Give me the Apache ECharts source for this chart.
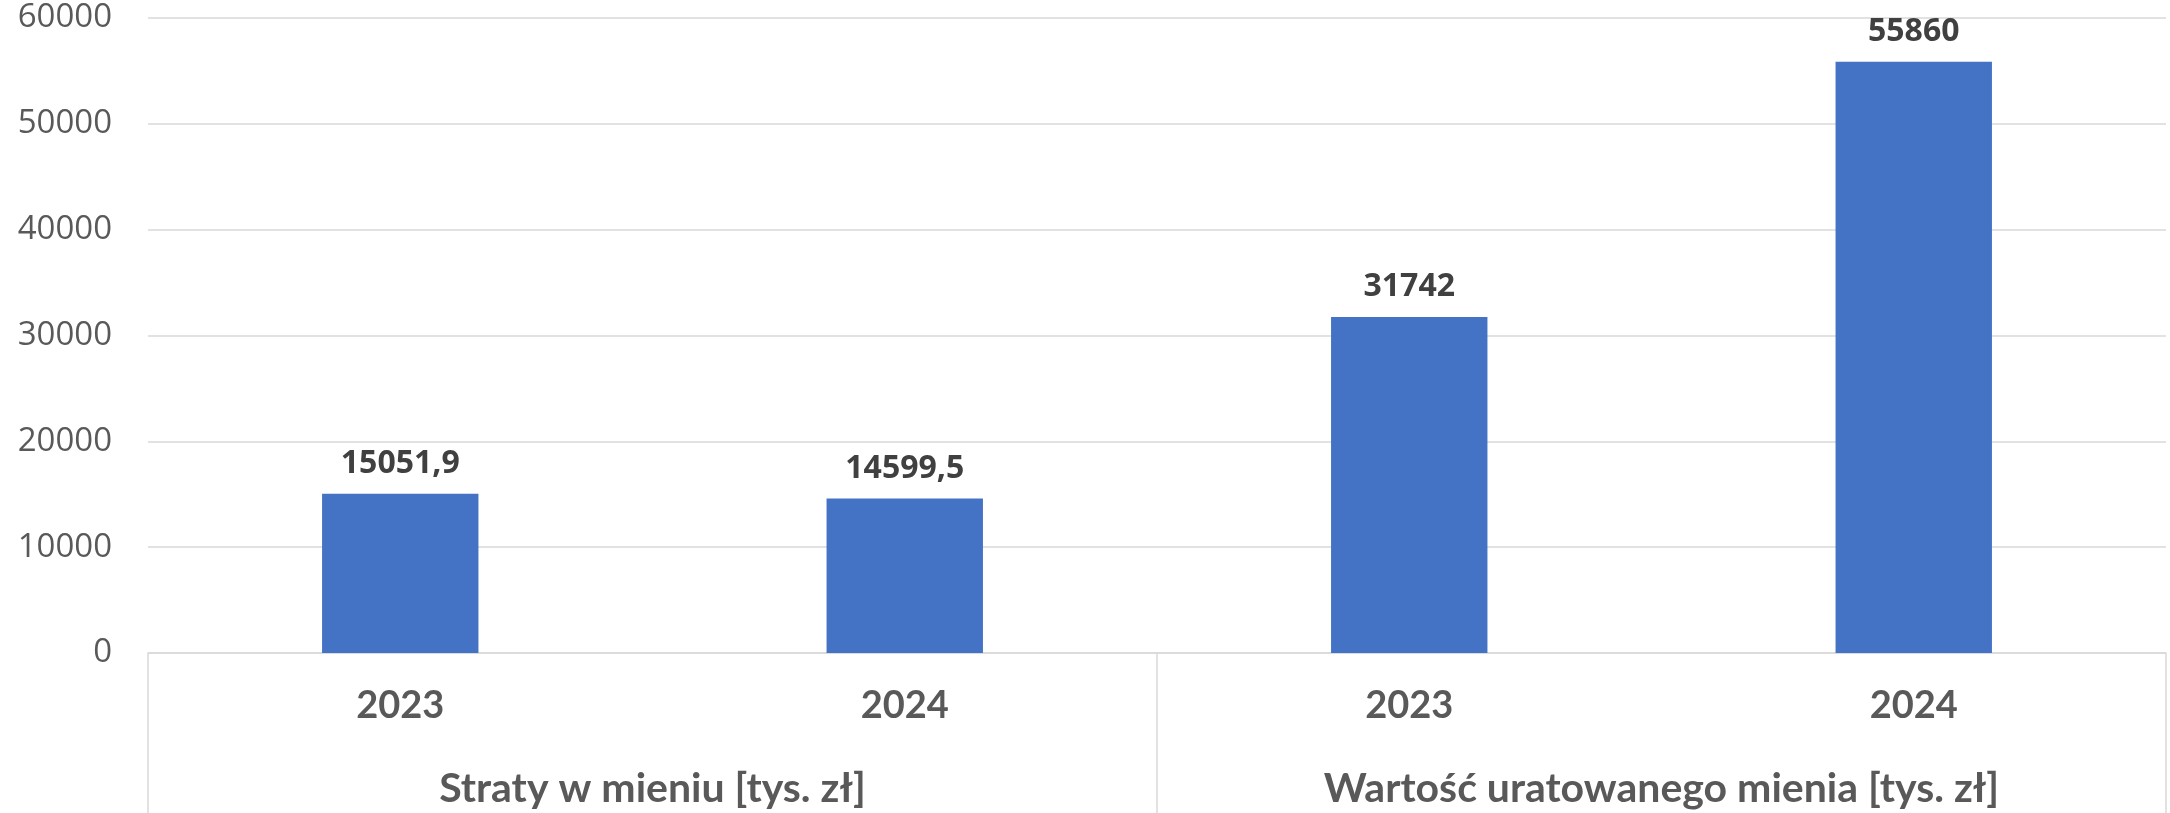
<!DOCTYPE html>
<html>
<head>
<meta charset="utf-8">
<script src="https://cdn.jsdelivr.net/npm/echarts@6/dist/echarts.min.js"></script>
<style>
html,body{margin:0;padding:0;background:#fff;}
#chart{width:2170px;height:813px;}
</style>
</head>
<body>
<div id="chart"></div>
<script>
const groups = ['Straty w mieniu [tys. zł]', 'Wartość uratowanego mienia [tys. zł]'];
const years = ['2023', '2024', '2023', '2024'];
const values = [15051.9, 14599.5, 31742, 55860];
const valueLabels = ['15051,9', '14599,5', '31742', '55860'];
const yTicks = [0, 10000, 20000, 30000, 40000, 50000, 60000];

const chart = echarts.init(document.getElementById('chart'), null, {renderer: 'canvas'});
chart.setOption({
  animation: false,
  backgroundColor: '#ffffff',
  grid: {left: 148, right: 4, top: 18, bottom: 160, containLabel: false},
  xAxis: [
    {
      type: 'category',
      data: years,
      position: 'bottom',
      axisLine: {show: true, lineStyle: {color: '#d9d9d9', width: 1.5}},
      axisTick: {show: false},
      axisLabel: {
        margin: 34,
        fontFamily: 'Lato',
        fontWeight: 'bold',
        fontSize: 38,
        color: '#595959'
      }
    },
    {
      type: 'category',
      data: groups,
      position: 'bottom',
      axisLine: {show: false},
      axisTick: {show: true, length: 160, interval: 0, lineStyle: {color: '#d9d9d9', width: 1.5}},
      axisLabel: {
        margin: 115,
        interval: 0,
        fontFamily: 'Lato',
        fontWeight: 'bold',
        fontSize: 41,
        color: '#595959'
      }
    }
  ],
  yAxis: {
    type: 'value',
    min: yTicks[0],
    max: yTicks[yTicks.length - 1],
    interval: 10000,
    axisLine: {show: false},
    axisTick: {show: false},
    splitLine: {lineStyle: {color: '#d9d9d9', width: 1.5}},
    axisLabel: {
      margin: 36,
      fontFamily: 'Open Sans',
      fontSize: 33,
      color: '#595959',
      formatter: v => String(v)
    }
  },
  series: [{
    type: 'bar',
    xAxisIndex: 0,
    data: values,
    barWidth: '31%',
    itemStyle: {color: '#4472c4'},
    label: {
      show: true,
      position: 'top',
      distance: 14,
      fontFamily: 'Open Sans',
      fontWeight: 'bold',
      fontSize: 32,
      color: '#404040',
      formatter: p => valueLabels[p.dataIndex]
    }
  }]
});
</script>
</body>
</html>
